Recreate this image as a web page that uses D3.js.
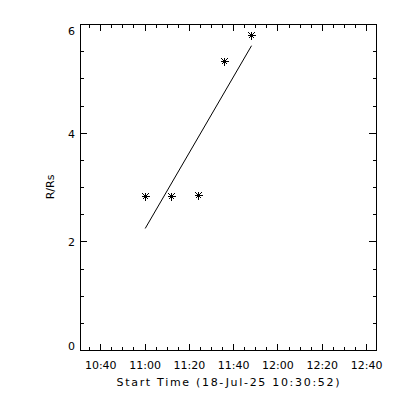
<!DOCTYPE html>
<html><head><meta charset="utf-8">
<script src="https://cdn.jsdelivr.net/npm/d3@7"></script>
<style>
body{margin:0;background:#fff}
text{font-family:"DejaVu Sans";font-size:11px;fill:#000}
</style>
</head><body><svg id="c" width="400" height="400"></svg>
<script>
// Data
const obsTimes = ["11:00:05","11:12:05","11:24:05","11:36:05","11:48:05"];
const heights = [2.83, 2.84, 2.86, 5.31, 5.80];
const xTickLabels = ["10:40","11:00","11:20","11:40","12:00","12:20","12:40"];
const yTickValues = [0, 2, 4, 6];
const startLabel = "18-Jul-25 10:30:52";
const xRangeTimes = ["10:30:52","12:44:30"];
const yDomain = [0, 6];

const day = "2025-07-18T";
const parse = s => new Date(day + (s.length === 5 ? s + ":00" : s));

const svg = d3.select("#c");
const L = 80, R = 376, T = 24, B = 350;

const x = d3.scaleTime().domain(xRangeTimes.map(parse)).range([L, R]);
const y = d3.scaleLinear().domain(yDomain).range([B, T]);

const majorX = xTickLabels.map(parse);
const minorX = d3.timeMinute.every(5).range(x.domain()[0], x.domain()[1]);
const minorY = d3.range(yDomain[0], yDomain[1] + 0.001, 0.5);

function styleAxis(g) {
  g.selectAll("path,line").attr("stroke", "#000").attr("shape-rendering", "crispEdges");
}

// bottom axis minor + major
svg.append("g").attr("transform", `translate(0,${B})`)
  .call(d3.axisBottom(x).tickValues(minorX).tickSize(-3.5).tickSizeOuter(0).tickFormat(""))
  .call(styleAxis);
const bx = svg.append("g").attr("transform", `translate(0,${B})`)
  .call(d3.axisBottom(x).tickValues(majorX).tickSize(-6.5).tickSizeOuter(0)
    .tickFormat(d3.timeFormat("%H:%M")).tickPadding(9))
  .call(styleAxis);
bx.selectAll("text").attr("font-size", null).attr("font-family", null).attr("dy", null).attr("y", 19);

// top axis
svg.append("g").attr("transform", `translate(0,${T})`)
  .call(d3.axisTop(x).tickValues(minorX).tickSize(-3.5).tickSizeOuter(0).tickFormat(""))
  .call(styleAxis);
svg.append("g").attr("transform", `translate(0,${T})`)
  .call(d3.axisTop(x).tickValues(majorX).tickSize(-6.5).tickSizeOuter(0).tickFormat(""))
  .call(styleAxis);

// left axis
svg.append("g").attr("transform", `translate(${L},0)`)
  .call(d3.axisLeft(y).tickValues(minorY).tickSize(-3.5).tickSizeOuter(0).tickFormat(""))
  .call(styleAxis);
const ly = svg.append("g").attr("transform", `translate(${L},0)`)
  .call(d3.axisLeft(y).tickValues(yTickValues).tickSize(-7).tickSizeOuter(0).tickFormat(d3.format("d")).tickPadding(5))
  .call(styleAxis);
ly.selectAll("text").attr("font-size", null).attr("font-family", null)
  .attr("dy", d => d === yDomain[1] ? "0.95em" : d === yDomain[0] ? "-0.05em" : "0.4em");

// right axis
svg.append("g").attr("transform", `translate(${R},0)`)
  .call(d3.axisRight(y).tickValues(minorY).tickSize(-3.5).tickSizeOuter(0).tickFormat(""))
  .call(styleAxis);
svg.append("g").attr("transform", `translate(${R},0)`)
  .call(d3.axisRight(y).tickValues(yTickValues).tickSize(-7).tickSizeOuter(0).tickFormat(""))
  .call(styleAxis);

// axis titles
svg.append("text").attr("x", (L + R) / 2).attr("y", 386).attr("text-anchor", "middle")
  .attr("textLength", 223).attr("lengthAdjust", "spacing")
  .text(`Start Time (${startLabel})`);
svg.append("text").attr("transform", `translate(54,${(T + B) / 2}) rotate(-90)`)
  .attr("text-anchor", "middle").text("R/Rs");

// data
const pts = obsTimes.map((t, i) => ({ t: parse(t), h: heights[i] }));

// linear fit
const t0 = pts[0].t.getTime();
const xs = pts.map(p => (p.t.getTime() - t0) / 60000), ys = pts.map(p => p.h);
const mx = d3.mean(xs), my = d3.mean(ys);
const slope = d3.sum(xs.map((v, i) => (v - mx) * (ys[i] - my))) / d3.sum(xs.map(v => (v - mx) ** 2));
const icpt = my - slope * mx;
const fitPts = [pts[0], pts[pts.length - 1]].map(p => {
  const m = (p.t.getTime() - t0) / 60000;
  return { t: p.t, h: icpt + slope * m };
});
svg.append("path").datum(fitPts)
  .attr("d", d3.line().x(d => x(d.t) + 0.5).y(d => y(d.h) + 0.5))
  .attr("fill", "none").attr("stroke", "#000").attr("stroke-width", 1);

// asterisks
const a = 4, b = 3;
svg.selectAll(".star").data(pts).join("path").attr("class", "star")
  .attr("transform", d => `translate(${Math.round(x(d.t)) + 0.5},${Math.round(y(d.h)) + 0.5})`)
  .attr("d", `M${-a},0H${a}M0,${-a}V${a}M${-b},${-b}L${b},${b}M${-b},${b}L${b},${-b}`)
  .attr("stroke", "#000").attr("stroke-width", 1).attr("fill", "none")
  .attr("shape-rendering", "crispEdges");
</script>
</body></html>
